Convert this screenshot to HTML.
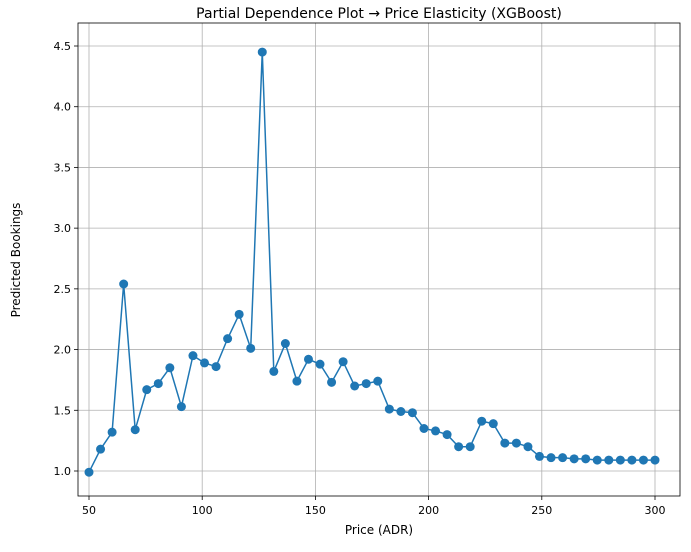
<!DOCTYPE html>
<html><head><meta charset="utf-8"><style>
body{margin:0;background:#fff;font-family:"Liberation Sans","DejaVu Sans",sans-serif}
</style></head><body>
<svg width="691" height="547" font-family="'DejaVu Sans','Liberation Sans',sans-serif">
<g id="grid"></g>
<g id="axes"></g>
<g id="series"></g>
<text x="379" y="18" text-anchor="middle" font-size="14">Partial Dependence Plot → Price Elasticity (XGBoost)</text>
<text x="379" y="534" text-anchor="middle" font-size="12">Price (ADR)</text>
<text x="20" y="260" text-anchor="middle" font-size="12" transform="rotate(-90 20 260)">Predicted Bookings</text>
</svg>
<script>
const prices = [];
for (let i = 0; i < 50; i++) prices.push(50 + i * 250 / 49);
const bookings = [0.99,1.18,1.32,2.54,1.34,1.67,1.72,1.85,1.53,1.95,1.89,1.86,2.09,2.29,2.01,4.45,1.82,2.05,1.74,1.92,1.88,1.73,1.90,1.70,1.72,1.74,1.51,1.49,1.48,1.35,1.33,1.30,1.20,1.20,1.41,1.39,1.23,1.23,1.20,1.12,1.11,1.11,1.10,1.10,1.09,1.09,1.09,1.09,1.09,1.09];
const xTicks = [50,100,150,200,250,300];
const yTicks = [1.0,1.5,2.0,2.5,3.0,3.5,4.0,4.5];
const L=78,R=680,T=23,B=496;
const sx = v => 89 + (v-50)*(655-89)/250;
const sy = v => 471 - (v-1)*(471-46)/3.5;
const NS="http://www.w3.org/2000/svg";
function mk(tag, attrs, parent){const e=document.createElementNS(NS,tag);for(const k in attrs)e.setAttribute(k,attrs[k]);parent.appendChild(e);return e;}
const grid=document.getElementById('grid'), axes=document.getElementById('axes'), series=document.getElementById('series');
xTicks.forEach(t=>{
  const x=sx(t);
  const g=mk('line',{x1:x,x2:x,y1:T,y2:B,stroke:'#b0b0b0','stroke-width':0.8},grid);
  
  
  const tk=mk('line',{x1:x,x2:x,y1:B,y2:B+4,stroke:'#000','stroke-width':0.8},axes);
  
  
  const lb=mk('text',{x:x,y:B+18,'text-anchor':'middle','font-size':11},axes);
  lb.textContent=t;
  
  
});
yTicks.forEach(t=>{
  const y=sy(t);
  const g=mk('line',{x1:L,x2:R,y1:y,y2:y,stroke:'#b0b0b0','stroke-width':0.8},grid);
  
  
  const tk=mk('line',{x1:L-4,x2:L,y1:y,y2:y,stroke:'#000','stroke-width':0.8},axes);
  
  
  const lb=mk('text',{x:L-7,y:y+4,'text-anchor':'end','font-size':11},axes);
  lb.textContent=t.toFixed(1);
  
  
});
const fr=mk('rect',{x:L,y:T,width:R-L,height:B-T,fill:'none',stroke:'#000','stroke-width':0.8},axes);


const pts=prices.map((p,i)=>sx(p)+','+sy(bookings[i])).join(' ');
const pl=mk('polyline',{points:pts,fill:'none',stroke:'#1f77b4','stroke-width':1.5},series);


prices.forEach((p,i)=>{
  const c=mk('circle',{cx:sx(p),cy:sy(bookings[i]),r:4.5,fill:'#1f77b4'},series);
  
  
});
</script>
</body></html>
